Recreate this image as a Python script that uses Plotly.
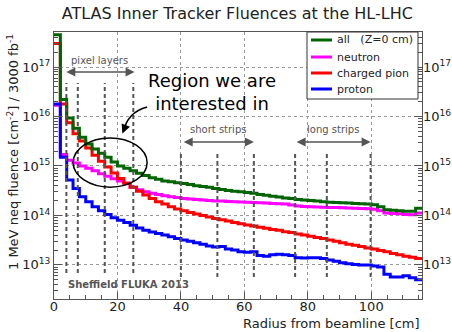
import plotly.graph_objects as go

# bin left edges (cm) and fluences per bin
edges = list(range(0, 118, 2))  # 0..116

all_z0 = [4.5e17, 2.2e16, 9.3e15, 5.8e15, 3.8e15, 2.8e15, 2.2e15, 1.8e15, 1.5e15, 1.2e15,
          1.0e15, 9.0e14, 8.0e14, 7.1e14, 6.4e14, 5.8e14, 5.4e14, 5.0e14, 4.8e14, 4.6e14,
          4.4e14, 4.2e14, 4.0e14, 3.85e14, 3.7e14, 3.5e14, 3.35e14, 3.2e14, 3.1e14, 3.0e14,
          2.9e14, 2.8e14, 2.65e14, 2.55e14, 2.45e14, 2.35e14, 2.25e14, 2.2e14, 2.1e14, 2.05e14,
          2.0e14, 1.95e14, 1.9e14, 1.85e14, 1.82e14, 1.8e14, 1.78e14, 1.75e14, 1.72e14, 1.7e14,
          1.65e14, 1.5e14, 1.3e14, 1.28e14, 1.25e14, 1.22e14, 1.22e14, 1.4e14]

neutron = [1.7e16, 1.7e15, 1.3e15, 1.15e15, 1.0e15, 9.0e14, 8.0e14, 7.0e14, 6.2e14, 5.5e14,
           5.0e14, 4.5e14, 3.7e14, 3.3e14, 3.0e14, 2.8e14, 2.65e14, 2.5e14, 2.4e14, 2.3e14,
           2.2e14, 2.15e14, 2.1e14, 2.05e14, 2.0e14, 1.97e14, 1.95e14, 1.92e14, 1.9e14, 1.87e14,
           1.85e14, 1.82e14, 1.8e14, 1.78e14, 1.75e14, 1.72e14, 1.7e14, 1.62e14, 1.55e14, 1.52e14,
           1.5e14, 1.48e14, 1.46e14, 1.45e14, 1.44e14, 1.43e14, 1.42e14, 1.4e14, 1.38e14, 1.36e14,
           1.33e14, 1.25e14, 1.12e14, 1.1e14, 1.08e14, 1.05e14, 1.03e14, 1.12e14]

charged_pion = [3.0e17, 1.8e16, 7.5e15, 4.5e15, 3.2e15, 2.3e15, 1.65e15, 1.25e15, 9.5e14, 7.2e14,
                5.6e14, 4.5e14, 3.7e14, 3.1e14, 2.6e14, 2.2e14, 1.9e14, 1.7e14, 1.5e14, 1.35e14,
                1.25e14, 1.15e14, 1.07e14, 1.0e14, 9.3e13, 8.7e13, 8.2e13, 7.7e13, 7.2e13, 6.8e13,
                6.4e13, 6.1e13, 5.8e13, 5.5e13, 5.2e13, 5.0e13, 4.7e13, 4.5e13, 4.2e13, 4.0e13,
                3.8e13, 3.6e13, 3.4e13, 3.2e13, 3.0e13, 2.8e13, 2.6e13, 2.5e13, 2.35e13, 2.2e13,
                2.1e13, 1.95e13, 1.85e13, 1.7e13, 1.6e13, 1.5e13, 1.42e13, 1.35e13]

proton = [1.8e16, 1.5e15, 5.2e14, 3.5e14, 2.4e14, 1.9e14, 1.5e14, 1.25e14, 1.05e14, 9.0e13,
          8.0e13, 7.2e13, 6.3e13, 5.6e13, 5.0e13, 4.6e13, 4.3e13, 4.0e13, 3.7e13, 3.4e13,
          3.2e13, 3.0e13, 2.8e13, 2.6e13, 2.4e13, 2.3e13, 2.35e13, 2.1e13, 2.0e13, 1.85e13,
          1.8e13, 1.85e13, 1.55e13, 1.5e13, 1.6e13, 1.65e13, 1.6e13, 1.55e13, 1.4e13, 1.38e13,
          1.4e13, 1.4e13, 1.35e13, 1.25e13, 1.18e13, 1.1e13, 1.05e13, 1.02e13, 1.0e13, 1.0e13,
          9.5e12, 9.1e12, 6.5e12, 5.7e12, 5.7e12, 6.0e12, 5.5e12, 5.0e12]

series_names = ["all\u00a0\u00a0\u00a0(Z=0 cm)", "neutron", "charged pion", "proton"]
series_vals = [all_z0, neutron, charged_pion, proton]
series_colors = ["#006400", "#ff00ff", "#ff0000", "#0000ff"]

pixel_layers = [3.9, 7.5, 16.0, 25.0]
short_strips = [40.0, 51.5, 63.0]
long_strips = [76.0, 86.0, 99.8]

decades = [1e13, 1e14, 1e15, 1e16, 1e17]
decade_text = ["10<sup>13</sup>", "10<sup>14</sup>", "10<sup>15</sup>", "10<sup>16</sup>", "10<sup>17</sup>"]
minor_vals = [k * 10 ** e for e in range(12, 18) for k in range(2, 10)]

FONT = "DejaVu Sans"
fig = go.Figure()

for idx in [1, 2, 3, 0]:
    vals = series_vals[idx]
    fig.add_trace(go.Scatter(
        x=edges, y=vals + [vals[-1]], mode="lines", line_shape="hv",
        line=dict(color=series_colors[idx], width=3), name=series_names[idx],
        showlegend=False, hoverinfo="skip"))

fig.add_trace(go.Scatter(x=edges, y=all_z0 + [all_z0[-1]], yaxis="y2", mode="lines",
                         line=dict(width=0), showlegend=False, hoverinfo="skip", opacity=0))

yr = [12.31, 17.71]
axis_common = dict(showline=True, linecolor="#555", linewidth=1, mirror=True, automargin=False)
fig.update_layout(
    width=452, height=332,
    margin=dict(l=54, r=30, t=32, b=33, autoexpand=False),
    paper_bgcolor="white", plot_bgcolor="white",
    font=dict(family=FONT, color="#222", size=13),
    title=dict(text="ATLAS Inner Tracker Fluences at the HL-LHC", x=0.525, xanchor="center",
               y=0.96, yanchor="middle", font=dict(size=16, color="#222")),
    xaxis=dict(range=[0, 116], tickvals=[0, 20, 40, 60, 80, 100], ticks="inside", ticklen=7,
               tickcolor="#555", showgrid=True, gridcolor="#999", griddash="dot", gridwidth=1,
               zeroline=False, tickfont=dict(size=13), ticklabelstandoff=-5,
               minor=dict(tickvals=list(range(5, 116, 5)), ticks="inside", ticklen=4, tickcolor="#555", showgrid=False),
               **axis_common),
    yaxis=dict(type="log", range=yr, tickvals=decades, ticktext=decade_text, ticks="inside",
               ticklen=8, tickcolor="#555", showgrid=True, gridcolor="#999", griddash="dot",
               tickfont=dict(size=13),
               minor=dict(tickvals=minor_vals, ticks="inside", ticklen=4, tickcolor="#555", showgrid=False),
               **axis_common),
    yaxis2=dict(type="log", range=yr, overlaying="y", side="right", tickvals=decades,
                ticktext=decade_text, ticks="inside", ticklen=8, tickcolor="#555",
                showgrid=False, tickfont=dict(size=13), automargin=False,
                minor=dict(tickvals=minor_vals, ticks="inside", ticklen=4, tickcolor="#555", showgrid=False)),
    showlegend=False,
)

def px_x(p):
    return (p - 54) / 368.0

def px_y(p):
    return (299 - p) / 267.0

DASH = "4px,3px"
shapes = []
for xv in pixel_layers:
    shapes.append(dict(type="line", xref="x", yref="paper", x0=xv, x1=xv, y0=0.097, y1=0.809,
                       line=dict(color="#555", width=2, dash=DASH)))
for xv in short_strips + long_strips:
    shapes.append(dict(type="line", xref="x", yref="paper", x0=xv, x1=xv, y0=0.082, y1=0.551,
                       line=dict(color="#555", width=2, dash=DASH)))
shapes.append(dict(type="circle", xref="paper", yref="paper", x0=0.052, x1=0.253, y0=0.419, y1=0.603,
                   line=dict(color="black", width=1.5)))
shapes.append(dict(type="path", xref="paper", yref="paper",
                   path="M 0.253,0.719 Q 0.200,0.700 0.188,0.625",
                   line=dict(color="black", width=1.5)))

# custom legend box
shapes.append(dict(type="rect", xref="paper", yref="paper", x0=px_x(307), x1=px_x(418),
                   y0=px_y(99), y1=px_y(32), fillcolor="white", line=dict(color="#333", width=1),
                   layer="above"))
legend_y = [40, 57, 73, 89]

ann = []
for name, col, ly in zip(series_names, series_colors, legend_y):
    shapes.append(dict(type="line", xref="paper", yref="paper", x0=px_x(311), x1=px_x(332),
                       y0=px_y(ly), y1=px_y(ly), line=dict(color=col, width=3), layer="above"))
    ann.append(dict(x=px_x(335), y=px_y(ly), xref="paper", yref="paper", xanchor="left",
                    yanchor="middle", text=name, showarrow=False, font=dict(size=11, color="#222")))
fig.update_layout(shapes=shapes)

def range_arrow(x0, x1, yp, label, ylab, xlab):
    ann.append(dict(x=x1, y=yp, xref="x", yref="paper", ax=x0, ay=0, axref="x", ayref="pixel",
                    showarrow=True, arrowhead=2, arrowside="end+start", arrowsize=1.2,
                    arrowwidth=1.5, arrowcolor="#555", text=""))
    ann.append(dict(x=xlab, y=ylab, xref="x", yref="paper", text=label, showarrow=False,
                    xanchor="center", yanchor="middle", font=dict(size=10, color="#555")))

range_arrow(3.4, 25.4, px_y(72), "pixel layers", px_y(60), 14.4)
range_arrow(40.4, 63.0, px_y(142), "short strips", px_y(129), 51.7)
range_arrow(76.0, 99.8, px_y(142), "long strips", px_y(129), 87.9)

ann.append(dict(x=0.186, y=0.620, xref="paper", yref="paper", ax=4, ay=-10, showarrow=True,
                arrowhead=2, arrowsize=1.2, arrowwidth=1.5, arrowcolor="black", text=""))
ann.append(dict(x=px_x(212), y=px_y(92), xref="paper", yref="paper", text="Region we are<br>interested in",
                xanchor="center", yanchor="middle", showarrow=False, font=dict(size=18, color="black")))
ann.append(dict(x=px_x(66), y=px_y(284), xref="paper", yref="paper", xanchor="left", yanchor="middle",
                text="<b>Sheffield FLUKA 2013</b>", showarrow=False, font=dict(size=10, color="#555")))
ann.append(dict(x=px_x(13), y=px_y(152), xref="paper", yref="paper", textangle=-90,
                xanchor="center", yanchor="middle",
                text="1 MeV neq fluence [cm<sup>-2</sup>] / 3000 fb<sup>-1</sup>", showarrow=False,
                font=dict(size=13, color="#222")))
ann.append(dict(x=1.0, y=px_y(323), xref="paper", yref="paper", xanchor="right", yanchor="middle",
                text="Radius from beamline [cm]", showarrow=False, font=dict(size=13, color="#222")))
fig.update_layout(annotations=ann)

fig.write_html("out.html", config={"displayModeBar": False},
               post_script="document.body.style.margin='0';document.body.style.padding='0';document.documentElement.style.overflow='hidden';")
